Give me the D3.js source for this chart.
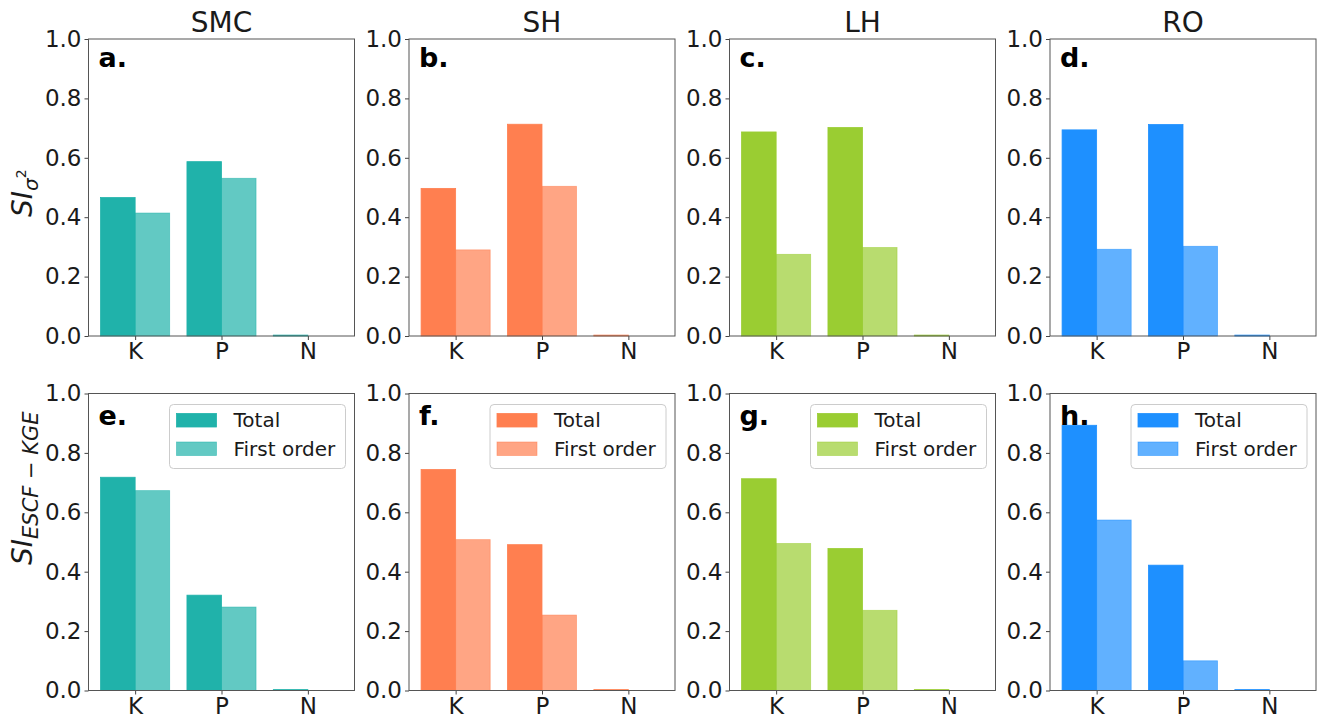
<!DOCTYPE html>
<html>
<head>
<meta charset="utf-8">
<script src="https://cdn.jsdelivr.net/npm/d3@7"></script>
<style>
  body { margin: 0; background: #fff; }
  svg { display: block; font-family: "DejaVu Sans", sans-serif; }
</style>
</head>
<body>
<svg id="graf" width="1321" height="721"></svg>
<script>
// sites (columns) and parameters (x categories)
const sites = ['SMC', 'SH', 'LH', 'RO'];
const params = ['K', 'P', 'N'];
const yTicks = [0, 0.2, 0.4, 0.6, 0.8, 1.0];
const letters = [['a.', 'b.', 'c.', 'd.'], ['e.', 'f.', 'g.', 'h.']];
const seriesNames = ['Total', 'First order'];

// row 1: SI of variance
const totalVar = [[0.466, 0.587, 0.003], [0.497, 0.713, 0.003], [0.687, 0.702, 0.003], [0.694, 0.712, 0.003]];
const firstVar = [[0.414, 0.531, 0], [0.290, 0.504, 0], [0.275, 0.298, 0], [0.292, 0.302, 0]];
// row 2: SI of ESCF-KGE
const totalKge = [[0.718, 0.321, 0.003], [0.744, 0.491, 0.003], [0.713, 0.478, 0.003], [0.893, 0.422, 0.003]];
const firstKge = [[0.673, 0.281, 0], [0.508, 0.254, 0], [0.495, 0.270, 0], [0.574, 0.100, 0]];

const colors = ['#20B2AA', '#FF7F50', '#9ACD32', '#1E90FF'];

const svg = d3.select('#graf');
const pw = 266, ph = 297;
const lefts = [88.5, 409, 729.5, 1050];
const tops = [39, 393.5];
const letterOff = [28, 31];

const x = d3.scaleLinear().domain([-0.54, 2.54]).range([0, pw]);
const y = d3.scaleLinear().domain([0, 1]).range([ph, 0]);
const bw = x(0.4) - x(0);

function panel(row, col, tot, first) {
  let g = svg.append('g').attr('transform', `translate(${lefts[col]},${tops[row]})`);
  let c = colors[col];

  // bars
  g.selectAll('rect.tot').data(tot).enter().append('rect')
    .attr('x', (d, i) => x(i - 0.4))
    .attr('y', d => y(d))
    .attr('width', bw)
    .attr('height', d => y(0) - y(d))
    .style('fill', c)
    .style('stroke', c).style('stroke-width', 0.8);
  g.selectAll('rect.first').data(first).enter().append('rect')
    .attr('x', (d, i) => x(i))
    .attr('y', d => y(d))
    .attr('width', bw)
    .attr('height', d => y(0) - y(d))
    .style('fill', c).style('fill-opacity', 0.7)
    .style('stroke', c).style('stroke-opacity', 0.6).style('stroke-width', 0.8);

  // axes
  let ya = g.append('g').call(d3.axisLeft(y).tickValues(yTicks).tickFormat(d3.format('.1f')).tickSize(4).tickPadding(3).tickSizeOuter(0));
  let xa = g.append('g').attr('transform', `translate(0,${ph})`)
    .call(d3.axisBottom(x).tickValues([0, 1, 2]).tickFormat(i => params[i]).tickSize(4).tickPadding(3).tickSizeOuter(0));
  [ya, xa].forEach(a => {
    a.select('.domain').remove();
    a.selectAll('line').style('stroke', '#444');
    a.selectAll('text').style('font-size', '23px').style('fill', '#1a1a1a').style('font-family', 'DejaVu Sans');
  });

  g.append('rect').attr('width', pw).attr('height', ph)
    .style('fill', 'none').style('stroke', '#555').style('stroke-width', 1);

  g.append('text').text(letters[row][col])
    .attr('x', 10).attr('y', letterOff[row])
    .style('font-size', '27px').style('font-weight', 'bold').style('fill', '#000');

  if (row == 0) {
    g.append('text').text(sites[col])
      .attr('x', pw / 2).attr('y', -7)
      .attr('text-anchor', 'middle')
      .style('font-size', '28px').style('fill', '#1a1a1a');
  }

  if (row == 1) {
    let lg = g.append('g').attr('transform', `translate(${pw - 9 - 176},11)`);
    lg.append('rect').attr('width', 176).attr('height', 64).attr('rx', 4)
      .style('fill', '#fff').style('fill-opacity', 0.8)
      .style('stroke', '#ccc').style('stroke-width', 1);
    seriesNames.forEach((s, i) => {
      lg.append('rect')
        .attr('x', 7).attr('y', 9 + i * 28.5).attr('width', 40).attr('height', 13.5)
        .style('fill', c).style('fill-opacity', i == 0 ? 1 : 0.7)
        .style('stroke', c).style('stroke-opacity', i == 0 ? 1 : 0.6).style('stroke-width', 0.8);
      lg.append('text').text(s)
        .attr('x', 64).attr('y', 22.5 + i * 29)
        .style('font-size', '20px').style('fill', '#1a1a1a');
    });
  }
}

for (let col = 0; col < 4; col++) {
  panel(0, col, totalVar[col], firstVar[col]);
  panel(1, col, totalKge[col], firstKge[col]);
}

// y labels
let yl1 = svg.append('text')
  .attr('transform', 'translate(32,217) rotate(-90)')
  .style('fill', '#1a1a1a');
yl1.append('tspan').text('SI').style('font-size', '28px').style('font-style', 'italic');
yl1.append('tspan').text('σ').attr('dy', 6).style('font-size', '20px').style('font-style', 'italic');
yl1.append('tspan').text('2').attr('dy', -12).style('font-size', '14px');

let yl2 = svg.append('text')
  .attr('transform', 'translate(32,565) rotate(-90)')
  .style('fill', '#1a1a1a');
yl2.append('tspan').text('SI').style('font-size', '28px').style('font-style', 'italic');
yl2.append('tspan').text('ESCF').attr('dy', 6).style('font-size', '21px').style('font-style', 'italic');
yl2.append('tspan').text(' − ').style('font-size', '21px');
yl2.append('tspan').text('KGE').style('font-size', '21px').style('font-style', 'italic');
</script>
</body>
</html>
